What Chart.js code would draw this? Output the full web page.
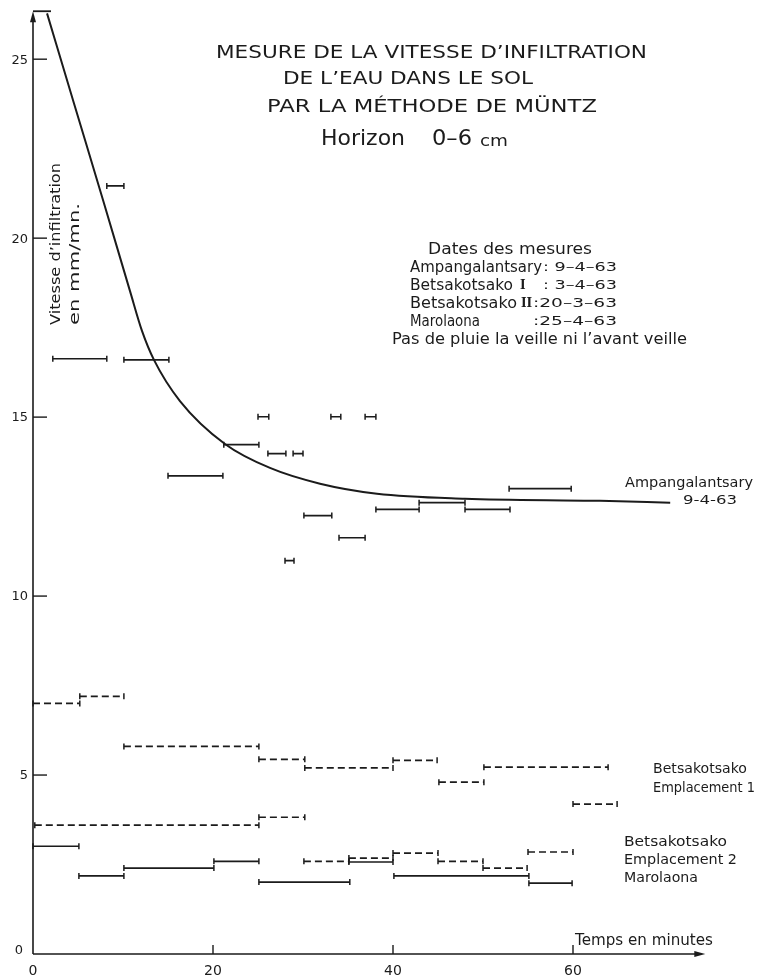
<!DOCTYPE html>
<html>
<head>
<meta charset="utf-8">
<script src="https://cdn.jsdelivr.net/npm/chart.js@4.4.1/dist/chart.umd.min.js"></script>
<style>
  html, body { margin:0; padding:0; background:#fff; }
  canvas { display:block; }
</style>
</head>
<body>
<canvas id="grafica" width="765" height="976"></canvas>
<script>
// intervalles de mesure : [début (mn), fin (mn), vitesse (mm/mn)]
const ampangalantsary = [
  [8.2, 10.1, 21.46], [2.2, 8.2, 16.63], [10.1, 15.1, 16.60], [15.0, 21.1, 13.36],
  [21.2, 25.1, 14.23], [25.0, 26.2, 15.01], [26.1, 28.1, 13.98], [28.9, 30.0, 13.98],
  [28.0, 29.0, 10.99], [30.1, 33.2, 12.25], [33.1, 34.2, 15.01], [34.0, 36.9, 11.63],
  [36.9, 38.1, 15.01], [38.1, 42.9, 12.42], [42.9, 48.0, 12.61], [48.0, 53.0, 12.42],
  [52.9, 59.8, 13.00]
];
const betsakotsako1 = [
  [0, 5.2, 7.00], [5.2, 10.1, 7.20], [10.1, 25.1, 5.80], [25.1, 30.2, 5.44],
  [30.2, 40.0, 5.20], [40.0, 44.9, 5.41], [45.1, 50.1, 4.80], [50.1, 63.9, 5.22],
  [60.0, 64.9, 4.19]
];
const betsakotsako2 = [
  [0.2, 25.1, 3.60], [25.1, 30.2, 3.82], [30.1, 35.1, 2.59], [35.1, 40.0, 2.68],
  [40.0, 45.0, 2.82], [45.0, 50.0, 2.59], [50.0, 54.9, 2.40], [55.0, 60.0, 2.85]
];
const marolaona = [
  [0, 5.1, 3.01], [5.1, 10.1, 2.18], [10.1, 20.1, 2.40], [20.1, 25.1, 2.59],
  [25.1, 35.2, 2.01], [35.1, 40.0, 2.57], [40.1, 55.1, 2.18], [55.1, 59.9, 1.98]
];

// courbe Ampangalantsary 9-4-63
const courbeT = [1.56, 4.49, 7.82, 10.78, 12.11, 13.44, 16.33, 21.33, 26.33, 31.89, 38.22, 48, 63, 70.8];
const courbeV = [26.28, 23.82, 21.03, 18.52, 17.41, 16.60, 15.45, 14.25, 13.58, 13.14, 12.86, 12.72, 12.66, 12.61];
const courbeHaut = [[0, 2.0, 26.34]];

const xTicks = [0, 20, 40, 60];
const yTicks = [0, 5, 10, 15, 20, 25];
const xAxisEnd = 74.7, yAxisEnd = 26.34;

const INK = '#1b1b1b';
const FONT = '"DejaVu Sans", sans-serif';

function segs(list){
  const out = [];
  list.forEach(([a, b, v]) => { out.push({x:a, y:v}, {x:b, y:v}, {x:b, y:null}); });
  return out;
}

function intervalSet(list, dashed){
  return {
    data: segs(list), borderColor: INK, borderWidth: 1.7, borderDash: dashed ? [7, 4] : [],
    pointStyle: 'line', rotation: 90, pointRadius: 3, pointBorderWidth: 1.5,
    pointBorderColor: INK, tension: 0, spanGaps: false, clip: false
  };
}

function put(ctx, s, x, y, size, w, opt = {}){
  ctx.font = `${opt.weight || 'normal'} ${size}px ${opt.family || FONT}`;
  const m = ctx.measureText(s).width;
  ctx.save();
  ctx.translate(x, y);
  if(opt.rot) ctx.rotate(opt.rot);
  ctx.scale(w ? w / m : 1, 1);
  ctx.textBaseline = 'middle';
  ctx.textAlign = opt.align || 'left';
  ctx.fillText(s, 0, 0);
  ctx.restore();
}

const deco = {
  id: 'deco',
  afterDatasetsDraw(chart){
    const {ctx, scales:{x, y}} = chart;
    const x0 = x.getPixelForValue(0), y0 = y.getPixelForValue(0);
    const yTop = y.getPixelForValue(yAxisEnd), xEnd = x.getPixelForValue(xAxisEnd);
    ctx.save();
    ctx.strokeStyle = INK; ctx.fillStyle = INK; ctx.lineWidth = 1.6;

    // axes + flèches
    ctx.beginPath();
    ctx.moveTo(x0, y0); ctx.lineTo(x0, yTop + 6);
    ctx.moveTo(x0, y0); ctx.lineTo(xEnd - 6, y0);
    ctx.stroke();
    ctx.beginPath();
    ctx.moveTo(x0, yTop); ctx.lineTo(x0 - 3, yTop + 11); ctx.lineTo(x0 + 3, yTop + 11); ctx.closePath(); ctx.fill();
    ctx.beginPath();
    ctx.moveTo(xEnd, y0); ctx.lineTo(xEnd - 11, y0 - 3); ctx.lineTo(xEnd - 11, y0 + 3); ctx.closePath(); ctx.fill();

    // graduations
    ctx.lineWidth = 1.4;
    yTicks.forEach(v => {
      const py = y.getPixelForValue(v);
      if(v > 0){ ctx.beginPath(); ctx.moveTo(x0, py); ctx.lineTo(x0 + 14, py); ctx.stroke(); }
      put(ctx, String(v), v > 0 ? x0 - 5 : x0 - 14, v > 0 ? py + 1 : py - 3, 13, null, {align: v > 0 ? 'right' : 'center'});
    });
    xTicks.forEach(v => {
      const px = x.getPixelForValue(v);
      if(v > 0){ ctx.beginPath(); ctx.moveTo(px, y0); ctx.lineTo(px, y0 - 9); ctx.stroke(); }
      put(ctx, String(v), px, y0 + 17, 14, null, {align: 'center'});
    });

    // titres
    put(ctx, 'MESURE DE LA VITESSE D\u2019INFILTRATION', 216, 54, 17, 431);
    put(ctx, 'DE L\u2019EAU DANS LE SOL', 283, 80, 17, 250);
    put(ctx, 'PAR LA M\u00c9THODE DE M\u00dcNTZ', 267, 108, 17, 330);
    put(ctx, 'Horizon', 321, 140, 21, 84);
    put(ctx, '0\u20136', 432, 140, 21, 40);
    put(ctx, 'cm', 480, 142, 15, 28);

    // dates des mesures
    put(ctx, 'Dates des mesures', 428, 250, 16, 164);
    put(ctx, 'Ampangalantsary', 410, 268, 15, 132);
    put(ctx, ': 9\u20134\u201363', 543, 268, 13, 74);
    put(ctx, 'Betsakotsako', 410, 286, 15, 103);
    put(ctx, 'I', 520, 286, 12, null, {family: '"DejaVu Serif", serif', weight: 'bold'});
    put(ctx, ': 3\u20134\u201363', 543, 286, 13, 74);
    put(ctx, 'Betsakotsako', 410, 304, 15, 107);
    put(ctx, 'II', 521, 304, 12, null, {family: '"DejaVu Serif", serif', weight: 'bold'});
    put(ctx, ':20\u20133\u201363', 533, 304, 13, 84);
    put(ctx, 'Marolaona', 410, 322, 15, 70);
    put(ctx, ':25\u20134\u201363', 533, 322, 13, 84);
    put(ctx, 'Pas de pluie la veille ni l\u2019avant veille', 392, 340, 16, 295);

    // titre de l'axe vertical
    put(ctx, 'Vitesse d\u2019infiltration', 56, 325, 14, 162, {rot: -Math.PI / 2});
    put(ctx, 'en mm/mn.', 75, 325, 14, 122, {rot: -Math.PI / 2});

    // étiquettes des courbes
    put(ctx, 'Ampangalantsary', 625, 483, 14, 128);
    put(ctx, '9-4-63', 683, 501, 13, 54);
    put(ctx, 'Betsakotsako', 653, 769, 14, 94);
    put(ctx, 'Emplacement 1', 653, 788, 14, 102);
    put(ctx, 'Betsakotsako', 624, 842, 14, 103);
    put(ctx, 'Emplacement 2', 624, 860, 14, 113);
    put(ctx, 'Marolaona', 624, 878, 14, 74);
    put(ctx, 'Temps en minutes', 575, 941, 15, 138);
    ctx.restore();
  }
};

new Chart(document.getElementById('grafica').getContext('2d'), {
  type: 'line',
  data: {
    datasets: [
      { data: courbeT.map((t, i) => ({x: t, y: courbeV[i]})), borderColor: INK, borderWidth: 2,
        pointRadius: 0, cubicInterpolationMode: 'monotone', clip: false },
      { data: segs(courbeHaut), borderColor: INK, borderWidth: 1.8, pointRadius: 0, clip: false },
      intervalSet(ampangalantsary, false),
      intervalSet(betsakotsako1, true),
      intervalSet(betsakotsako2, true),
      intervalSet(marolaona, false)
    ]
  },
  options: {
    responsive: false, animation: false, events: [], devicePixelRatio: 1,
    layout: { padding: { left: 33, right: 57, top: 4, bottom: 22 } },
    plugins: { legend: { display: false }, tooltip: { enabled: false } },
    scales: {
      x: { type: 'linear', min: 0, max: 75, display: false },
      y: { type: 'linear', min: 0, max: 26.5, display: false }
    }
  },
  plugins: [deco]
});
</script>
</body>
</html>
